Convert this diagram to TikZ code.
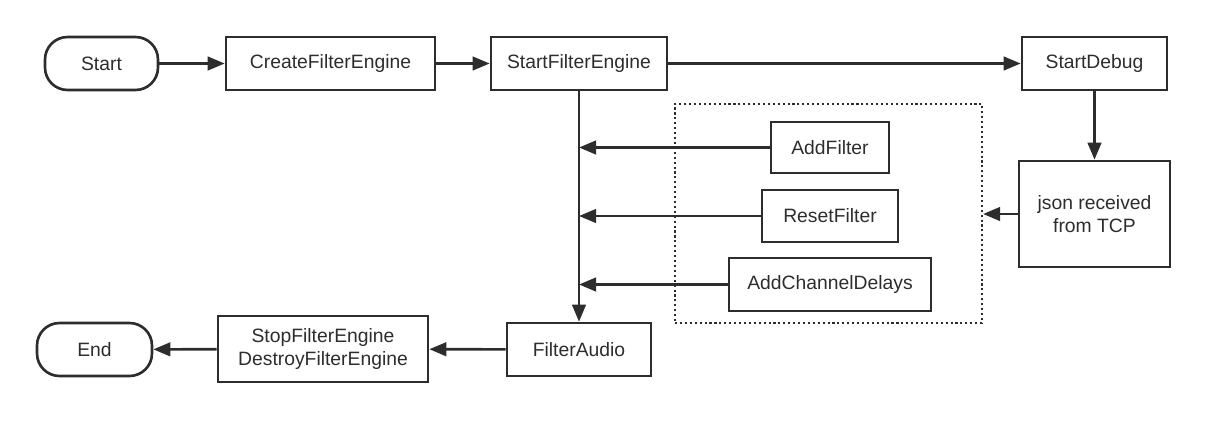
\documentclass[tikz,border=0pt]{standalone}
\usepackage{fontspec}
\setmainfont{Liberation Sans}
\usetikzlibrary{positioning,calc,arrows.meta}
\definecolor{linecolor}{RGB}{45,45,45}
\definecolor{textcolor}{RGB}{45,45,45}

\begin{document}
\begin{tikzpicture}[x=0.02cm, y=-0.02cm,
    box/.style={rectangle, draw=linecolor, line width=1.5pt, minimum height=1.06cm, font=\fontsize{11}{13.5}\selectfont, text=textcolor, align=center, inner sep=2pt},
    term/.style={box, rounded corners=0.45cm},
    group/.style={rectangle, draw=linecolor, line width=1.3pt, dash pattern=on 1.2pt off 1.6pt},
    arw/.style={draw=linecolor, line width=1.5pt, -{Triangle[length=0.34cm, width=0.27cm]}}
]
\useasboundingbox (0,0) rectangle (1207,420);

% top row
\node[term, minimum width=2.26cm] (start) at (101.5, 63.5) {Start};
\node[box, minimum width=4.18cm] (create) at (330.5, 63.5) {CreateFilterEngine};
\node[box, minimum width=3.52cm] (sfe) at (579, 63.5) {StartFilterEngine};
\node[box, minimum width=2.9cm] (debug) at (1094.5, 63.5) {StartDebug};

% debug input
\node[box, minimum width=3.02cm, minimum height=2.12cm] (json) at (1094.5, 214) {json received\\from TCP};

% filter commands
\node[group, minimum width=6.14cm, minimum height=4.38cm] (cmds) at (828.5, 213.5) {};
\node[box, minimum width=2.36cm, minimum height=1.02cm] (addf) at (830, 147.5) {AddFilter};
\node[box, minimum width=2.72cm, minimum height=1.04cm] (resetf) at (830, 216) {ResetFilter};
\node[box, minimum width=4.04cm] (delays) at (830, 284.5) {AddChannelDelays};

% bottom row
\node[box, minimum width=2.88cm] (audio) at (579, 349.5) {FilterAudio};
\node[box, minimum width=4.2cm, minimum height=1.32cm] (stop) at (323, 349) {StopFilterEngine\\DestroyFilterEngine};
\node[term, minimum width=2.3cm] (end) at (94.5, 349.5) {End};

% connectors
\draw[arw] (start) -- (create);
\draw[arw] (create) -- (sfe);
\draw[arw] (sfe) -- (debug);
\draw[arw] (debug) -- (json);
\draw[arw] (json.west) -- (json.west -| cmds.east);
\draw[arw] (sfe.south) -- (audio.north);
\draw[arw] (addf.west) -- (addf.west -| sfe.south);
\draw[arw] (resetf.west) -- (resetf.west -| sfe.south);
\draw[arw] (delays.west) -- (delays.west -| sfe.south);
\draw[arw] (audio) -- (stop);
\draw[arw] (stop) -- (end);

\end{tikzpicture}
\end{document}
